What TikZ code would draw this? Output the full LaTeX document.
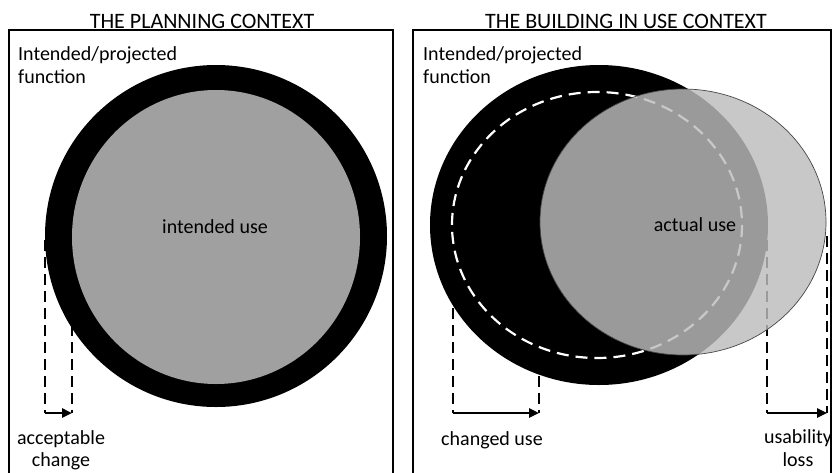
\documentclass[tikz,border=0pt]{standalone}
\usepackage{fontspec}
\setmainfont{Carlito}
\usetikzlibrary{arrows.meta}
\definecolor{innergray}{RGB}{160,160,160}
\definecolor{lightfill}{RGB}{188,188,188}
\definecolor{rimgray}{RGB}{70,70,70}
\begin{document}
\begin{tikzpicture}[x=1pt,y=-1pt,
  frame/.style={line width=1.4pt, draw=black},
  titletext/.style={font=\fontsize{22}{25}\selectfont, anchor=base, inner sep=0pt},
  lbl/.style={font=\fontsize{20}{24}\selectfont, anchor=base, inner sep=0pt},
  lblw/.style={font=\fontsize{20}{24}\selectfont, anchor=base west, inner sep=0pt},
  measure/.style={line width=2.4pt, dash pattern=on 11pt off 6pt},
  arr/.style={line width=2.4pt, -{Triangle[length=10pt,width=9pt]}},
  whitedash/.style={draw=white, line width=2.2pt, dash pattern=on 12pt off 7pt}
]
\useasboundingbox (0,0) rectangle (833,472);

% frames
\draw[frame] (9,474) -- (9,30) -- (393,30) -- (393,474);
\draw[frame] (413,474) -- (413,30) -- (831,30) -- (831,474);

% titles
\node[titletext] (t1) at (202,28) {THE PLANNING CONTEXT};
\node[titletext] (t2) at (626,28) {THE BUILDING IN USE CONTEXT};

% corner labels
\node[lblw] (f1a) at (18,60) {Intended/projected};
\node[lblw] (f1b) at (18,83) {function};
\node[lblw] (f2a) at (423,60) {Intended/projected};
\node[lblw] (f2b) at (423,83) {function};

% ---------- left panel ----------
\coordinate (a1t) at (45,240);  \coordinate (a1b) at (45,413);
\coordinate (a2t) at (72,240);  \coordinate (a2b) at (72,413);
\draw[measure] (a1t) -- (a1b);
\draw[measure] (a2t) -- (a2b);
\draw[arr] (a1b) -- (a2b);

\fill[black] (216,236) ellipse [x radius=171, y radius=171];
\fill[innergray] (216,237) ellipse [x radius=144, y radius=147];
\node[lbl] (iu) at (215,233) {intended use};

\node[lbl] (ac1) at (61,444) {acceptable};
\node[lbl] (ac2) at (61,466) {change};

% ---------- right panel ----------
\coordinate (c1t) at (453,240); \coordinate (c1b) at (453,413);
\coordinate (c2t) at (539,240); \coordinate (c2b) at (539,413);
\coordinate (u1t) at (767,240); \coordinate (u1b) at (767,413);
\coordinate (u2t) at (827,236); \coordinate (u2b) at (827,413);
\draw[measure] (c1t) -- (c1b);
\draw[measure] (c2t) -- (c2b);
\draw[measure] (u1t) -- (u1b);
\draw[measure] (u2t) -- (u2b);
\draw[arr] (c1b) -- (c2b);
\draw[arr] (u1b) -- (u2b);

\fill[black] (599,225) ellipse [x radius=169, y radius=160];
\draw[whitedash] (597,225) ellipse [x radius=145, y radius=133];
\fill[lightfill, fill opacity=0.82] (683,222) ellipse [x radius=143, y radius=133];
\draw[rimgray, line width=0.7pt] (683,222) ellipse [x radius=143, y radius=133];
\node[lbl] (au) at (695,231) {actual use};

\node[lbl] (cu) at (492,445) {changed use};
\node[lbl] (ul1) at (798,443) {usability};
\node[lbl] (ul2) at (798,466) {loss};
\end{tikzpicture}
\end{document}
